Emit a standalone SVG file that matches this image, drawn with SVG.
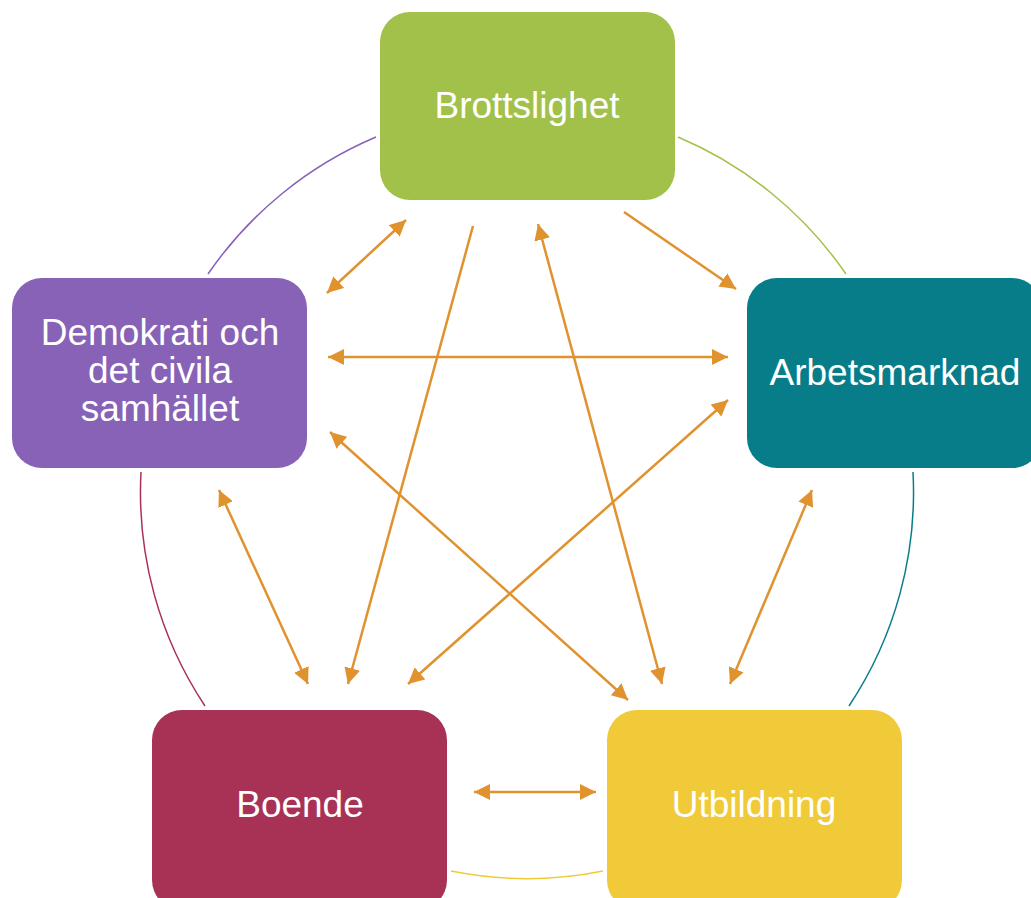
<svg xmlns="http://www.w3.org/2000/svg" width="1031" height="898" viewBox="0 0 1031 898">
<style>
.lbl{font-family:"Liberation Sans",Arial,sans-serif;font-size:37px;fill:#ffffff;text-anchor:middle}
.arc{fill:none;stroke-width:1.5}
.con{fill:none;stroke:#E0922F;stroke-width:2.5}
</style>
<defs>
<marker id="ah" viewBox="0 0 16 16" refX="16" refY="8" markerWidth="16" markerHeight="16" markerUnits="userSpaceOnUse" orient="auto-start-reverse">
<path d="M0,0 L16,8 L0,16 z" fill="#E0922F"/>
</marker>
</defs>
<rect width="1031" height="898" fill="#ffffff"/>
<g id="arcs">
<path class="arc" stroke="#8762B6" d="M376,137 A386,386 0 0 0 208,274"/>
<path class="arc" stroke="#A2C14A" d="M678,137 A386,386 0 0 1 846,274"/>
<path class="arc" stroke="#087D8A" d="M913,472 A386,386 0 0 1 849,706"/>
<path class="arc" stroke="#F1CA3A" d="M603,871 A386,386 0 0 1 451,871"/>
<path class="arc" stroke="#A83256" d="M205,706 A386,386 0 0 1 141,472"/>
</g>
<g id="connectors">
<line class="con" x1="327" y1="293" x2="406" y2="220" marker-start="url(#ah)" marker-end="url(#ah)"/>
<line class="con" x1="473" y1="226" x2="348" y2="684" marker-end="url(#ah)"/>
<line class="con" x1="624" y1="212" x2="736" y2="289" marker-end="url(#ah)"/>
<line class="con" x1="538" y1="224" x2="662" y2="684" marker-start="url(#ah)" marker-end="url(#ah)"/>
<line class="con" x1="328" y1="357" x2="728" y2="357" marker-start="url(#ah)" marker-end="url(#ah)"/>
<line class="con" x1="330" y1="432" x2="628" y2="700" marker-start="url(#ah)" marker-end="url(#ah)"/>
<line class="con" x1="728" y1="400" x2="408" y2="684" marker-start="url(#ah)" marker-end="url(#ah)"/>
<line class="con" x1="219" y1="490" x2="308" y2="684" marker-start="url(#ah)" marker-end="url(#ah)"/>
<line class="con" x1="812" y1="490" x2="730" y2="684" marker-start="url(#ah)" marker-end="url(#ah)"/>
<line class="con" x1="474" y1="792" x2="596" y2="792" marker-start="url(#ah)" marker-end="url(#ah)"/>
</g>
<g id="brottslighet">
<rect x="380" y="12" width="295" height="188" rx="30" fill="#A2C14A"/>
<text class="lbl" x="527" y="118">Brottslighet</text>
</g>
<g id="arbetsmarknad">
<rect x="747" y="278" width="295" height="190" rx="30" fill="#087D8A"/>
<text class="lbl" x="895" y="385">Arbetsmarknad</text>
</g>
<g id="utbildning">
<rect x="607" y="710" width="295" height="200" rx="30" fill="#F1CA3A"/>
<text class="lbl" x="754" y="817">Utbildning</text>
</g>
<g id="boende">
<rect x="152" y="710" width="295" height="200" rx="30" fill="#A83256"/>
<text class="lbl" x="300" y="817">Boende</text>
</g>
<g id="demokrati">
<rect x="12" y="278" width="295" height="190" rx="30" fill="#8762B6"/>
<text class="lbl" x="160" y="345">Demokrati och</text>
<text class="lbl" x="160" y="383">det civila</text>
<text class="lbl" x="160" y="421">samhället</text>
</g>
</svg>
